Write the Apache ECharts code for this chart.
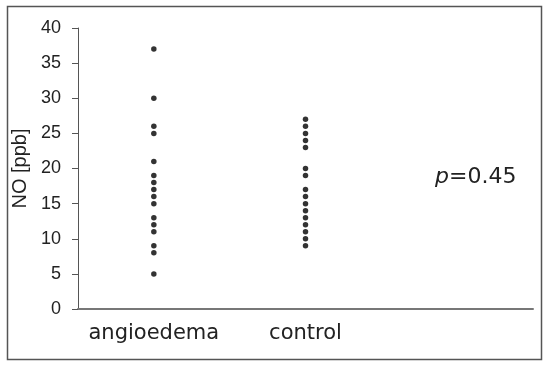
<!DOCTYPE html>
<html>
<head>
<meta charset="utf-8">
<script src="https://cdn.jsdelivr.net/npm/echarts@6/dist/echarts.min.js"></script>
<style>
html,body{margin:0;padding:0;background:#fff;}
#chart{width:550px;height:368px;}
</style>
</head>
<body>
<div id="chart"></div>
<script>
var categories = ['angioedema', 'control', ''];
var angioedemaValues = [37, 30, 26, 25, 21, 19, 18, 17, 16, 15, 13, 12, 11, 9, 8, 5];
var controlValues = [27, 26, 25, 24, 23, 20, 19, 17, 16, 15, 14, 13, 12, 11, 10, 9];
var yTicks = [0, 5, 10, 15, 20, 25, 30, 35, 40];
var yAxisName = 'NO [ppb]';
var pValueLabel = '0.45';

var chart = echarts.init(document.getElementById('chart'), null, {renderer: 'canvas'});

function toPoints(cat, vals) {
  return vals.map(function (v) { return [cat, v]; });
}

chart.setOption({
  animation: false,
  backgroundColor: '#fff',
  grid: {left: 78, right: 17, top: 28, bottom: 59},
  xAxis: {
    type: 'category',
    data: categories,
    boundaryGap: true,
    axisLine: {show: true, lineStyle: {color: '#777', width: 2}},
    axisTick: {show: false},
    axisLabel: {
      interval: 0,
      color: '#222',
      fontFamily: 'DejaVu Sans',
      fontSize: 21,
      margin: 14
    },
    splitLine: {show: false}
  },
  yAxis: {
    type: 'value',
    min: yTicks[0],
    max: yTicks[yTicks.length - 1],
    interval: 5,
    name: yAxisName,
    nameLocation: 'middle',
    nameGap: 48,
    nameRotate: 90,
    nameTextStyle: {color: '#222', fontFamily: 'Liberation Sans', fontSize: 20},
    axisLine: {show: true, lineStyle: {color: '#555', width: 1}},
    axisTick: {show: true, inside: false, length: 6, lineStyle: {color: '#555', width: 1}},
    axisLabel: {
      color: '#222',
      fontFamily: 'Liberation Sans',
      fontSize: 18,
      margin: 17
    },
    splitLine: {show: false}
  },
  series: [
    {
      type: 'scatter',
      name: 'angioedema',
      symbol: 'circle',
      symbolSize: 5.5,
      itemStyle: {color: '#000'},
      data: toPoints(categories[0], angioedemaValues)
    },
    {
      type: 'scatter',
      name: 'control',
      symbol: 'circle',
      symbolSize: 5.5,
      itemStyle: {color: '#000'},
      data: toPoints(categories[1], controlValues)
    }
  ],
  graphic: [
    {
      type: 'rect',
      shape: {x: 7.5, y: 6.5, width: 534, height: 353},
      style: {fill: 'none', stroke: '#555', lineWidth: 1.5},
      silent: true
    },
    {
      type: 'text',
      left: 435,
      top: 166,
      style: {
        text: '{p|p}{n|=' + pValueLabel + '}',
        rich: {
          p: {fontFamily: 'DejaVu Sans', fontStyle: 'italic', fontSize: 22, fill: '#222'},
          n: {fontFamily: 'DejaVu Sans', fontSize: 22, fill: '#222'}
        }
      }
    }
  ]
});
</script>
</body>
</html>
